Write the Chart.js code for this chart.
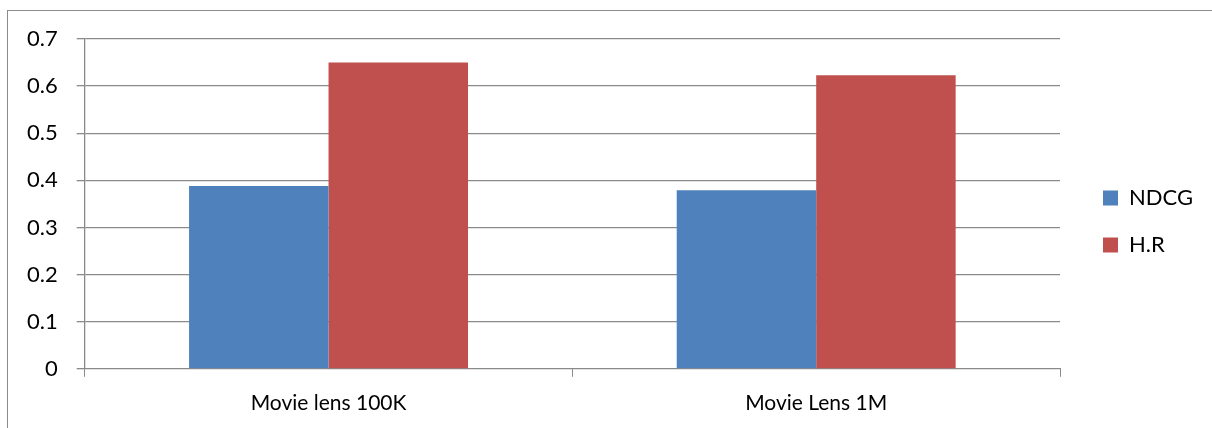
<!DOCTYPE html>
<html>
<head>
<meta charset="utf-8">
<script src="https://cdn.jsdelivr.net/npm/chart.js@4"></script>
<style>
  body { margin: 0; background: #fff; overflow: hidden; }
  #frame { position: absolute; left: 7px; top: 10px; width: 1220px; height: 430px;
           border-left: 1px solid #8c8c8c; border-top: 1px solid #8c8c8c; }
  #wrap { position: absolute; left: 0; top: 0; width: 1212px; height: 428px; }
</style>
</head>
<body>
<div id="frame"></div>
<div id="wrap"><canvas id="myChart1"></canvas></div>
<script>
// values
var categories = ['Movie lens 100K', 'Movie Lens 1M'];
var ndcgValues = [0.388, 0.379];
var hrValues = [0.650, 0.623];
var seriesNames = ['NDCG', 'H.R'];

var axisColor = '#8a8a8a';
var fontFamily = 'Lato, "Open Sans", sans-serif';

const chx1 = document.getElementById('myChart1');

// push the legend a bit further from the plot, like the original
var legendShift = {
  id: 'legendShift',
  afterLayout: function(chart) {
    chart.legend.left += 18;
    chart.legend.right += 18;
    chart.legend.top -= 13;
    chart.legend.bottom -= 13;
  }
};

var data = {
  labels: categories,
  datasets: [{
    label: seriesNames[0],
    data: ndcgValues,
    backgroundColor: '#4f81bd'
  },
  {
    label: seriesNames[1],
    data: hrValues,
    backgroundColor: '#c0504d'
  }]
};

var config = {
  type: 'bar',
  data: data,
  plugins: [legendShift],
  options: {
    responsive: true,
    maintainAspectRatio: false,
    animation: false,
    categoryPercentage: 0.572,
    barPercentage: 1.0,
    layout: {
      padding: { top: 39, left: 8, right: 27, bottom: -2 }
    },
    plugins: {
      tooltip: { enabled: false },
      legend: {
        position: 'right',
        labels: {
          boxWidth: 15,
          boxHeight: 15,
          padding: 25,
          color: '#000',
          font: { family: fontFamily, size: 22 }
        }
      }
    },
    scales: {
      x: {
        grid: {
          display: true,
          offset: true,
          drawOnChartArea: false,
          drawTicks: true,
          tickLength: 8,
          color: axisColor
        },
        border: { color: axisColor, width: 1 },
        ticks: {
          color: '#000',
          padding: 14,
          font: { family: fontFamily, size: 21 }
        }
      },
      y: {
        min: 0,
        max: 0.7,
        ticks: {
          stepSize: 0.1,
          color: '#000',
          padding: 19,
          font: { family: fontFamily, size: 22 }
        },
        grid: {
          color: axisColor,
          lineWidth: 1.3,
          tickLength: 8
        },
        border: { color: axisColor, width: 1.3 }
      }
    }
  }
};
var chartUpdate = new Chart(chx1, config);
</script>
</body>
</html>
